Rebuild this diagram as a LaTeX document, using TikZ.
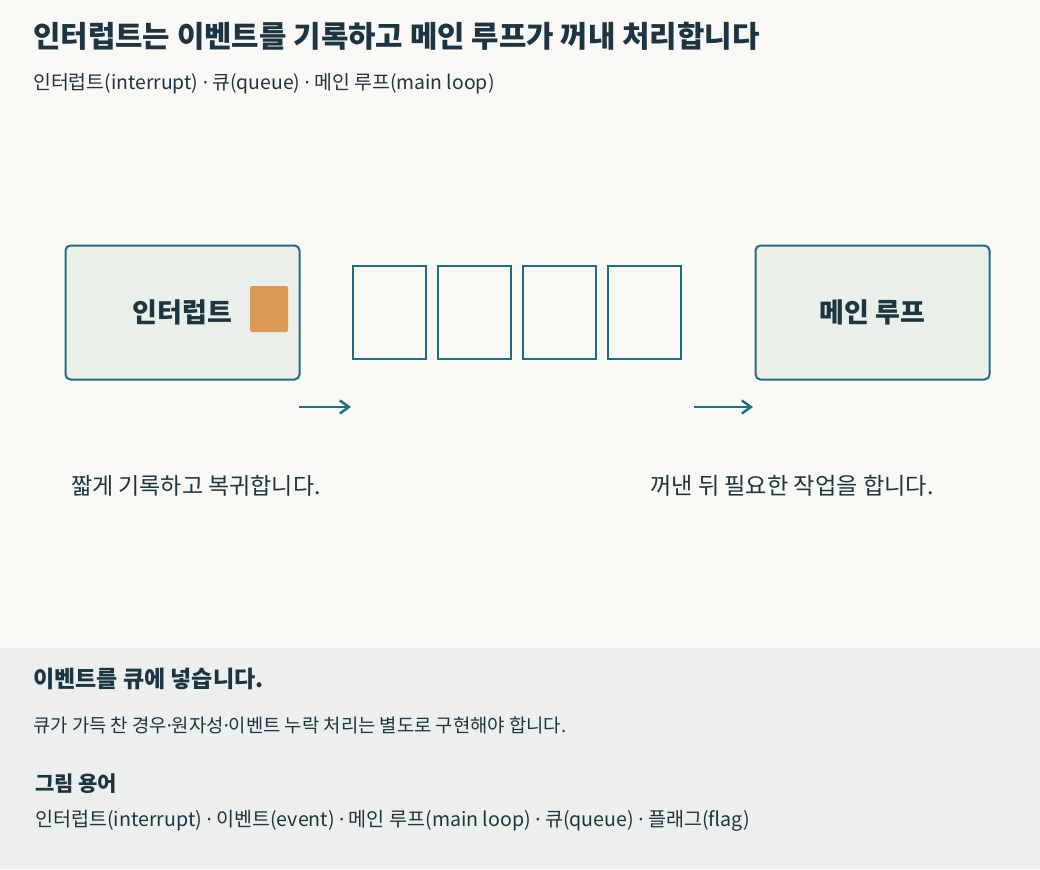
\documentclass[tikz,border=0pt]{standalone}
\usepackage{fontspec}
\setmainfont{Noto Sans CJK KR}
\newfontfamily\dotfont{Noto Sans}
\newcommand{\sepdot}{{\dotfont ·}}
\usetikzlibrary{arrows.meta}

\definecolor{paper}{HTML}{F9F8F5}
\definecolor{panel}{HTML}{ECEFEE}
\definecolor{boxfill}{HTML}{EAEFEA}
\definecolor{teal1}{HTML}{236B7F}
\definecolor{flag}{HTML}{D99A55}
\definecolor{ink}{HTML}{1D3541}

\begin{document}
\begin{tikzpicture}[x=1pt,y=-1pt,
  box/.style={draw=teal1,fill=boxfill,line width=2pt,rounded corners=5pt,minimum width=234pt,minimum height=134pt,inner sep=0pt,text=ink,font=\fontsize{27}{30}\selectfont\bfseries},
  slot/.style={draw=teal1,line width=2pt,minimum width=73pt,minimum height=93pt,inner sep=0pt},
  flow/.style={draw=teal1,line width=2.5pt,-{Straight Barb[length=9pt,width=13pt]}},
  lbl/.style={anchor=west,inner sep=0pt,text=ink}]

\useasboundingbox (0,0) rectangle (1040,869);
\fill[paper] (0,0) rectangle (1040,648);
\fill[panel] (0,648) rectangle (1040,869);

\node[lbl,font=\fontsize{29.8}{33}\selectfont\bfseries] (title) at (33,36) {인터럽트는 이벤트를 기록하고 메인 루프가 꺼내 처리합니다};
\node[lbl,font=\fontsize{19.4}{22}\selectfont] (sub) at (33,84) {인터럽트(interrupt) \sepdot{} 큐(queue) \sepdot{} 메인 루프(main loop)};

\node[box] (intr) at (182.5,312.5) {인터럽트};
\node[fill=flag,rounded corners=2pt,minimum width=38pt,minimum height=46pt,inner sep=0pt] (flg) at (269,309) {};
\node[box] (main) at (872.5,312.5) {메인 루프};

\node[slot] (q1) at (389,312) {};
\node[slot] (q2) at (474,312) {};
\node[slot] (q3) at (559,312) {};
\node[slot] (q4) at (644,312) {};

\coordinate (in1) at (299,407);
\coordinate (in2) at (351,407);
\coordinate (out1) at (694,407);
\coordinate (out2) at (753,407);
\draw[flow] (in1) -- (in2);
\draw[flow] (out1) -- (out2);

\node[lbl,font=\fontsize{23}{26}\selectfont] (capl) at (71,486) {짧게 기록하고 복귀합니다.};
\node[lbl,font=\fontsize{23.2}{26}\selectfont] (capr) at (650,486) {꺼낸 뒤 필요한 작업을 합니다.};

\node[lbl,font=\fontsize{23}{26}\selectfont\bfseries] (head) at (33,679) {이벤트를 큐에 넣습니다.};
\node[lbl,font=\fontsize{18.8}{21}\selectfont] (note) at (33,725) {큐가 가득 찬 경우\sepdot{}원자성\sepdot{}이벤트 누락 처리는 별도로 구현해야 합니다.};
\node[lbl,font=\fontsize{21}{24}\selectfont\bfseries] (gloss) at (35,784) {그림 용어};
\node[lbl,font=\fontsize{19.6}{22}\selectfont] (terms) at (35,821) {인터럽트(interrupt) \sepdot{} 이벤트(event) \sepdot{} 메인 루프(main loop) \sepdot{} 큐(queue) \sepdot{} 플래그(flag)};
\end{tikzpicture}
\end{document}
